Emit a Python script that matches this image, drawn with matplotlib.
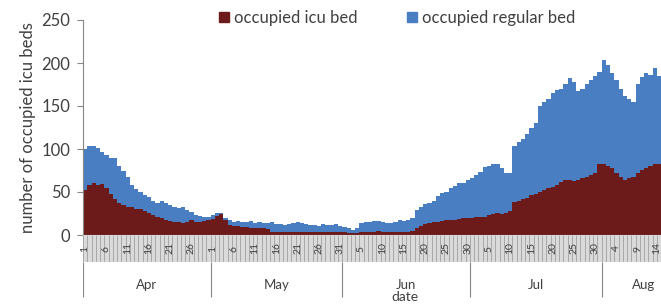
import numpy as np
import pandas as pd
import matplotlib
matplotlib.use("Agg")
import matplotlib.pyplot as plt
from matplotlib.patches import Patch

# daily counts, 1 Apr .. 14 Aug
start_date = "2020-04-01"
icu_beds = [
    52, 58, 60, 58, 59, 55, 48, 42, 37, 35,
    33, 32, 30, 30, 28, 26, 23, 21, 20, 18,
    16, 15, 15, 14, 15, 18, 15, 15, 16, 17,
    19, 22, 24, 18, 12, 10, 10, 9, 9, 8,
    8, 8, 8, 7, 4, 3, 3, 3, 3, 3,
    3, 3, 4, 3, 3, 4, 3, 3, 3, 3,
    3, 3, 2, 2, 2, 3, 4, 4, 4, 5,
    4, 4, 3, 3, 3, 3, 3, 5, 8, 11,
    13, 14, 15, 15, 16, 17, 17, 18, 19, 20,
    20, 20, 21, 21, 21, 23, 24, 26, 25, 26,
    28, 38, 40, 42, 43, 46, 48, 50, 52, 55,
    56, 58, 62, 64, 64, 63, 64, 66, 67, 70,
    72, 83, 82, 80, 78, 72, 68, 64, 66, 68,
    72, 76, 78, 80, 83, 82,
]
regular_beds = [
    48, 46, 43, 43, 38, 38, 42, 47, 43, 40,
    35, 26, 23, 20, 18, 18, 17, 16, 19, 19,
    19, 17, 16, 18, 14, 9, 8, 7, 5, 4,
    4, 3, 2, 2, 5, 5, 6, 6, 6, 8,
    6, 7, 6, 7, 11, 10, 10, 9, 10, 11,
    12, 11, 9, 9, 9, 7, 10, 9, 9, 10,
    7, 6, 6, 4, 6, 11, 11, 11, 12, 11,
    11, 10, 11, 12, 14, 13, 15, 15, 21, 22,
    23, 23, 25, 30, 33, 33, 38, 39, 41, 40,
    44, 46, 49, 52, 58, 57, 59, 56, 53, 46,
    44, 65, 68, 70, 75, 78, 82, 100, 103, 103,
    109, 111, 108, 112, 119, 115, 104, 104, 109, 110,
    113, 107, 121, 118, 110, 108, 102, 98, 92, 87,
    103, 108, 110, 106, 111, 103,
]
y_ticks = [0, 50, 100, 150, 200, 250]

RED = "#6d1b1a"
BLUE = "#4a7ec2"
TXT = "#404040"
plt.rcParams["font.family"] = ["Lato", "DejaVu Sans"]

# category axis runs on past the cropped right edge (to 21 Aug)
dates = pd.date_range(start_date, periods=142)
n = len(icu_beds)
days = np.arange(n)
W, H = 661, 304
x0 = 83
xmax = len(dates) - 0.5
ax_w = len(dates) * 4.25 / W

fig = plt.figure(figsize=(W / 100, H / 100), dpi=100)
ax = fig.add_axes([x0 / W, 1 - 235 / H, ax_w, 215 / H])
ax.bar(days, icu_beds, width=1.0, color=RED, linewidth=0)
ax.bar(days, regular_beds, width=1.0, bottom=icu_beds, color=BLUE, linewidth=0)
ax.set_xlim(-0.5, xmax)
ax.set_ylim(0, 250)
ax.set_yticks(y_ticks)
ax.tick_params(axis="y", length=4, width=0.8, color="#868686", pad=5,
               labelsize=12, labelcolor=TXT)
ax.set_xticks([])
for s in ["top", "right"]:
    ax.spines[s].set_visible(False)
ax.spines["left"].set_color("#868686")
ax.spines["bottom"].set_color("#b0b0b0")
ax.set_ylabel("number of occupied icu beds", fontsize=12, color=TXT, labelpad=4)

# day labels band
band = fig.add_axes([x0 / W, 1 - 262 / H, ax_w, 27 / H])
band.set_xlim(-0.5, xmax)
band.set_ylim(0, 1)
band.set_facecolor("#dadada")
band.vlines(np.arange(len(dates) + 1) - 0.5, 0, 1, color="#a8a8a8", lw=0.7)
last_visible = n - 1.6  # keep the last label inside the cropped picture
for i, d in enumerate(dates):
    if i % 5 == 0 and i < n:
        band.text(min(i, last_visible), 0.5, str(d.day), rotation=90,
                  ha="center", va="center", fontsize=7.5, color=TXT)
band.set_xticks([])
band.set_yticks([])
for s in band.spines.values():
    s.set_visible(False)

# month row
mrow = fig.add_axes([x0 / W, 0, ax_w, 1 - 262 / H])
mrow.set_xlim(-0.5, xmax)
mrow.set_ylim(0, 1)
mrow.axis("off")
months = dates.to_period("M")
bounds = [i - 0.5 for i in range(len(dates)) if i == 0 or months[i] != months[i - 1]]
mrow.vlines(bounds, 0.17, 1, color="#868686", lw=0.8)
edges = bounds + [xmax]
for a, b in zip(edges[:-1], edges[1:]):
    mrow.text((a + b) / 2, 0.45, dates[int(a + 0.5)].strftime("%b"),
              ha="center", va="center", fontsize=9.5, color=TXT)

fig.text(405 / W, 1 - 297 / H, "date", ha="center", va="center",
         fontsize=10, color=TXT)

handles = [Patch(color=RED), Patch(color=BLUE)]
fig.legend(handles, ["occupied icu bed", "occupied regular bed"], ncol=2,
           loc="center", bbox_to_anchor=(397 / W, 1 - 18 / H), frameon=False,
           handlelength=0.6, handleheight=0.6, handletextpad=0.3,
           columnspacing=3.0, fontsize=12, labelcolor=TXT)

fig.savefig("out.png", dpi=100)
